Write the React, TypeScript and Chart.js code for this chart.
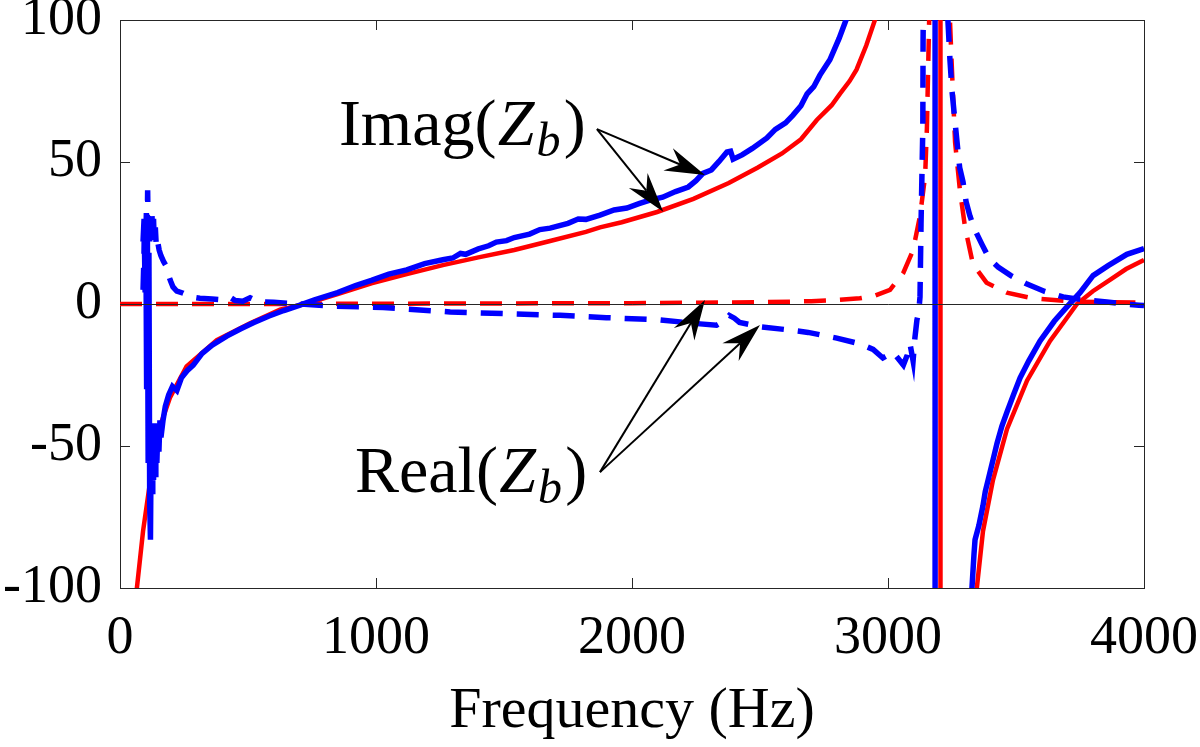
import React, { useEffect, useRef } from 'react';
import { Chart, registerables } from 'chart.js';

Chart.register(...registerables);

// ---------- axis ticks ----------
const xTicks = [0, 1000, 2000, 3000, 4000];
const yTicks = [-100, -50, 0, 50, 100];

// ---------- model: Imag(Zb) (red solid) ----------
const imagModelF = [40, 66, 90, 117, 149, 195, 260, 378, 508, 625, 723, 850, 982, 1120, 1261, 1400, 1540, 1680, 1820, 1875, 1960, 2098, 2240, 2378, 2490, 2586, 2660, 2722, 2780, 2812, 2850, 2877, 2915, 2949, 3000, 3080, 3150, 3203, 3207, 3260, 3310, 3347, 3371, 3410, 3465, 3543, 3633, 3690, 3738, 3800, 3867, 3930, 4000];
const imagModelV = [-200, -100, -80, -63, -45, -33, -22, -12.7, -6.8, -2, 0, 3.5, 7.3, 10.5, 13.7, 16.4, 19, 22.2, 25.4, 27, 28.8, 32.4, 37, 42.6, 48, 53, 58, 64.8, 70, 74, 78.5, 82.5, 91, 100, 125, 200, 450, 3000, -3000, -300, -160, -100, -80, -62, -44, -27, -13, -6, 0, 4.5, 8.5, 12.3, 15.5];

// ---------- model: Real(Zb) (red dashed) ----------
const realModelF = [0, 500, 1000, 1500, 2000, 2500, 2700, 2800, 2890, 2950, 3008, 3060, 3098, 3125, 3145, 3152, 3158, 3170, 3190, 3210, 3230, 3242, 3250, 3262, 3281, 3301, 3332, 3385, 3464, 3566, 3738, 4000];
const realModelV = [0, 0, 0.1, 0.2, 0.3, 0.6, 1, 1.4, 2, 3, 5, 11, 19, 31, 45, 62, 88, 140, 200, 180, 130, 100, 82, 57, 40, 27, 14, 7.5, 4, 2, 0.8, 0.5];

// ---------- measured: Imag(Zb) (blue solid) ----------
const imagMeasF = [90, 94, 98, 101, 104, 107, 110, 113, 116, 119, 122, 125, 128, 131, 134, 137, 140, 144, 148, 152, 156, 160, 168, 177, 190, 205, 222, 240, 262, 286, 320, 360, 417, 470, 521, 580, 640, 700, 760, 850, 920, 982, 1050, 1120, 1190, 1261, 1300, 1330, 1350, 1400, 1440, 1470, 1510, 1540, 1600, 1640, 1680, 1750, 1790, 1820, 1875, 1930, 1980, 2030, 2070, 2120, 2170, 2220, 2250, 2277, 2310, 2340, 2371, 2385, 2395, 2430, 2470, 2527, 2560, 2600, 2629, 2660, 2684, 2710, 2734, 2773, 2809, 2836, 2900, 3000, 3100, 3182, 3186, 3250, 3300, 3328, 3336, 3340, 3355, 3371, 3380, 3391, 3410, 3426, 3445, 3465, 3490, 3516, 3550, 3594, 3650, 3699, 3750, 3801, 3860, 3933, 4000];
const imagMeasV = [22, 30, 5, 28, -30, 25, -55, 18, -70, -83, -45, -66, -48, -62, -42, -60, -44, -56, -43, -52, -41, -47, -41, -36, -32, -29, -30.5, -26, -23.5, -21.5, -17.5, -14.5, -11.3, -8.8, -6.6, -4.3, -2.3, -0.5, 1.5, 4, 6.5, 8.3, 10.5, 12, 14.2, 15.6, 16.2, 17.8, 17.5, 19.4, 20.5, 21.8, 22.3, 23.4, 24.6, 26.2, 26.7, 28.4, 29.9, 29.8, 31.3, 33.1, 33.8, 35.4, 36.6, 37.6, 39.6, 41.2, 43.4, 46, 47.2, 50.2, 53.5, 53.8, 51, 52.5, 54.8, 58.5, 61.5, 63.8, 66.5, 69.8, 74, 76.5, 80.6, 86, 93.5, 100, 135, 200, 400, 3000, -3000, -400, -150, -100, -88, -83, -78, -71, -66, -62, -55, -49, -43, -38, -32, -26, -20, -13, -6, -1, 4, 10, 13.5, 17.5, 19.5];

// ---------- measured: Real(Zb) (blue dashed) ----------
const realMeasF = [90, 94, 97, 100, 103, 106, 108, 110, 113, 116, 119, 122, 125, 128, 131, 134, 138, 142, 147, 153, 160, 170, 183, 190, 198, 207, 222, 247, 275, 312, 360, 400, 430, 450, 480, 508, 540, 600, 703, 833, 1028, 1290, 1500, 1719, 1900, 2109, 2266, 2330, 2360, 2380, 2400, 2420, 2500, 2600, 2688, 2800, 2890, 2942, 2980, 3020, 3060, 3075, 3086, 3098, 3105, 3113, 3120, 3125, 3129, 3136, 3137, 3145, 3180, 3215, 3234, 3242, 3250, 3262, 3273, 3280, 3293, 3305, 3320, 3340, 3367, 3395, 3430, 3480, 3543, 3610, 3684, 3760, 3855, 3920, 3980, 4000];
const realMeasV = [5, 18, 28, 20, 32, 24, 40, 26, 31, 22, 30, 25, 31, 24, 30, 21, 27, 20, 22, 19, 17, 15, 13, 10, 8, 6, 4.5, 3.8, 2.5, 2, 1.8, 1.5, 2.4, 1.2, 1, 2.2, 0.8, 0.6, 0, -0.8, -1.2, -2.8, -3.4, -4, -4.8, -5.6, -7, -7.5, -6, -4, -5, -6.5, -8, -9, -10, -12, -14, -16, -19, -17, -21.5, -18, -14, -20, -12, -5.6, -3, 2.5, 28, 62, 92, 200, 500, 300, 100, 86, 75, 64, 54, 48, 43, 36, 31, 26, 21, 16, 13, 10, 7, 4.5, 2.5, 1.5, 0.7, 0, -0.4, -0.5];

// ---------- annotations (data coordinates) ----------
const imagLabelAt = [855, 56];
const realLabelAt = [918, -66.2];
const imagArrows = [
  [1863, 61.6, 2285, 45.4],
  [1863, 61.6, 2122, 32.5],
];
const realArrows = [
  [1875, -59.2, 2285, 1.4],
  [1875, -59.2, 2500, -7.4],
];

const FAMILY = "'Liberation Serif', 'DejaVu Serif', serif";
const AXIS_COLOR = '#262626';

function toXY(fs: number[], vs: number[]) {
  return fs.map((f, i) => ({ x: f, y: vs[i] }));
}

function drawArrow(ctx: CanvasRenderingContext2D, x0: number, y0: number, x1: number, y1: number) {
  const ang = Math.atan2(y1 - y0, x1 - x0);
  const c = Math.cos(ang);
  const s = Math.sin(ang);
  const L = 40;
  const W = 12;
  const N = 27;
  const nx = x1 - N * c;
  const ny = y1 - N * s;
  ctx.beginPath();
  ctx.moveTo(x0, y0);
  ctx.lineTo(nx, ny);
  ctx.stroke();
  const bx = x1 - L * c;
  const by = y1 - L * s;
  ctx.beginPath();
  ctx.moveTo(x1, y1);
  ctx.lineTo(bx - W * s, by + W * c);
  ctx.lineTo(nx, ny);
  ctx.lineTo(bx + W * s, by - W * c);
  ctx.closePath();
  ctx.fill();
}

function drawMathLabel(ctx: CanvasRenderingContext2D, word: string, x: number, y: number, size: number) {
  ctx.fillStyle = '#000';
  ctx.textBaseline = 'alphabetic';
  ctx.textAlign = 'left';
  ctx.font = `normal ${size}px ${FAMILY}`;
  const s1 = word + '(';
  ctx.fillText(s1, x, y);
  let cx = x + ctx.measureText(s1).width + size * 0.02;
  ctx.font = `italic ${size}px ${FAMILY}`;
  ctx.fillText('Z', cx, y);
  cx += ctx.measureText('Z').width + size * 0.03;
  const sub = Math.round(size * 0.72);
  ctx.font = `italic ${sub}px ${FAMILY}`;
  ctx.fillText('b', cx, y + size * 0.16);
  cx += ctx.measureText('b').width + size * 0.05;
  ctx.font = `normal ${size}px ${FAMILY}`;
  ctx.fillText(')', cx, y);
}

const annotationPlugin = {
  id: 'zbAnnotations',
  afterDatasetsDraw(chart: any) {
    const ctx: CanvasRenderingContext2D = chart.ctx;
    const xs = chart.scales.x;
    const ys = chart.scales.y;
    const px = (f: number) => xs.getPixelForValue(f);
    const py = (v: number) => ys.getPixelForValue(v);
    ctx.save();
    ctx.strokeStyle = '#000';
    ctx.fillStyle = '#000';
    ctx.lineWidth = 2;
    [...imagArrows, ...realArrows].forEach(([f0, v0, f1, v1]) => {
      drawArrow(ctx, px(f0), py(v0), px(f1), py(v1));
    });
    drawMathLabel(ctx, 'Imag', px(imagLabelAt[0]), py(imagLabelAt[1]), 66);
    drawMathLabel(ctx, 'Real', px(realLabelAt[0]), py(realLabelAt[1]), 66);
    ctx.restore();
  },
};

export default function App() {
  const ref = useRef<HTMLCanvasElement>(null);

  useEffect(() => {
    const canvas = ref.current;
    if (!canvas) return;
    Chart.defaults.font.family = FAMILY;
    const DASH = [22, 14];
    const chart = new Chart(canvas, {
      type: 'line',
      data: {
        datasets: [
          {
            label: 'Imag model',
            data: toXY(imagModelF, imagModelV),
            borderColor: '#ff0000',
            borderWidth: 4.5,
            pointRadius: 0,
            tension: 0,
            order: 4,
            xAxisID: 'x',
            yAxisID: 'y',
          },
          {
            label: 'Real model',
            data: toXY(realModelF, realModelV),
            borderColor: '#ff0000',
            borderWidth: 4.5,
            borderDash: DASH,
            pointRadius: 0,
            tension: 0,
            order: 3,
            xAxisID: 'x',
            yAxisID: 'y',
          },
          {
            label: 'Imag measured',
            data: toXY(imagMeasF, imagMeasV),
            borderColor: '#0000ff',
            borderWidth: 5.5,
            pointRadius: 0,
            tension: 0,
            order: 2,
            xAxisID: 'x',
            yAxisID: 'y',
          },
          {
            label: 'Real measured',
            data: toXY(realMeasF, realMeasV),
            borderColor: '#0000ff',
            borderWidth: 5.5,
            borderDash: DASH,
            pointRadius: 0,
            tension: 0,
            order: 1,
            xAxisID: 'x',
            yAxisID: 'y',
          },
        ] as any,
      },
      options: {
        animation: false,
        responsive: false,
        events: [],
        layout: { padding: { top: 20, right: 56, left: 0, bottom: 0 } },
        plugins: {
          legend: { display: false },
          tooltip: { enabled: false },
        },
        scales: {
          x: {
            type: 'linear',
            position: 'bottom',
            min: 0,
            max: 4000,
            afterBuildTicks: (s: any) => {
              s.ticks = xTicks.map((value) => ({ value }));
            },
            ticks: {
              callback: (v: any) => String(v),
              color: '#000',
              font: { size: 54, family: FAMILY },
              padding: 28.6,
              maxRotation: 0,
              autoSkip: false,
            },
            grid: {
              color: 'rgba(0,0,0,0)',
              tickColor: AXIS_COLOR,
              tickLength: -10,
              lineWidth: 1,
            },
            border: { display: true, color: AXIS_COLOR, width: 1 },
            title: {
              display: true,
              text: 'Frequency (Hz)',
              color: '#000',
              font: { size: 58, family: FAMILY },
              padding: { top: 0, bottom: 0 },
            },
            afterFit: (s: any) => {
              s.height = 159;
              s.paddingLeft = 0;
              s.paddingRight = 0;
            },
          },
          x2: {
            type: 'linear',
            position: 'top',
            min: 0,
            max: 4000,
            afterBuildTicks: (s: any) => {
              s.ticks = xTicks.map((value) => ({ value }));
            },
            ticks: { display: false },
            grid: {
              drawOnChartArea: false,
              tickColor: AXIS_COLOR,
              tickLength: -10,
            },
            border: { display: true, color: AXIS_COLOR, width: 1 },
            afterFit: (s: any) => {
              s.height = 0;
              s.paddingLeft = 0;
              s.paddingRight = 0;
            },
          },
          y: {
            type: 'linear',
            position: 'left',
            min: -100,
            max: 100,
            afterBuildTicks: (s: any) => {
              s.ticks = yTicks.map((value) => ({ value }));
            },
            ticks: {
              callback: (v: any) => String(v),
              color: '#000',
              font: { size: 54, family: FAMILY },
              padding: 28,
            },
            grid: {
              z: 1,
              color: (c: any) => (c.tick && c.tick.value === 0 ? AXIS_COLOR : 'rgba(0,0,0,0)'),
              tickColor: AXIS_COLOR,
              tickLength: -10,
              lineWidth: 1,
            },
            border: { display: true, color: AXIS_COLOR, width: 1 },
            afterFit: (s: any) => {
              s.width = 120;
              s.paddingTop = 0;
              s.paddingBottom = 0;
            },
          },
          y2: {
            type: 'linear',
            position: 'right',
            min: -100,
            max: 100,
            afterBuildTicks: (s: any) => {
              s.ticks = yTicks.map((value) => ({ value }));
            },
            ticks: { display: false },
            grid: {
              drawOnChartArea: false,
              tickColor: AXIS_COLOR,
              tickLength: -10,
            },
            border: { display: true, color: AXIS_COLOR, width: 1 },
            afterFit: (s: any) => {
              s.width = 0;
              s.paddingTop = 0;
              s.paddingBottom = 0;
            },
          },
        },
      } as any,
      plugins: [annotationPlugin],
    });
    let alive = true;
    const fonts: any = (document as any).fonts;
    if (fonts && fonts.load) {
      Promise.all([
        fonts.load(`54px 'Liberation Serif'`),
        fonts.load(`italic 54px 'Liberation Serif'`),
      ])
        .then(() => {
          if (alive) chart.update();
        })
        .catch(() => {});
    }
    return () => {
      alive = false;
      chart.destroy();
    };
  }, []);

  return (
    <div style={{ position: 'absolute', left: 0, top: 0, width: 1200, height: 747, background: '#fff' }}>
      <span style={{ position: 'absolute', left: -9999, top: 0, fontFamily: "'Liberation Serif'" }}>
        0 <i>Z</i>
      </span>
      <canvas ref={ref} width={1200} height={747} style={{ display: 'block', width: 1200, height: 747 }} />
    </div>
  );
}
